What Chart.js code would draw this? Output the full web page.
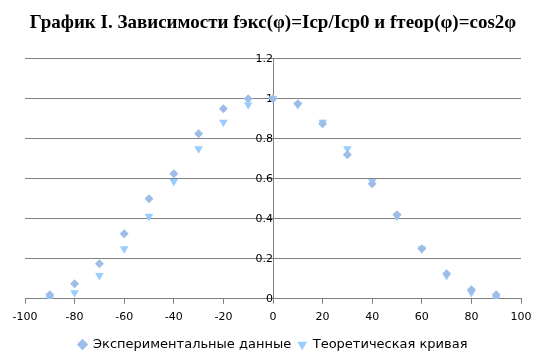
<!DOCTYPE html>
<html lang="ru">
  <head>
    <meta charset="UTF-8" />
    <title>График I</title>
    <style>
      * {
        margin: 0;
        padding: 0;
        box-sizing: border-box;
      }
      body {
        background: white;
      }
      .chartBox {
        width: 544px;
        height: 361px;
      }
    </style>
  </head>
  <body>
    <div class="chartBox">
      <canvas id="myChart"></canvas>
    </div>

    <script src="https://cdn.jsdelivr.net/npm/chart.js"></script>

    <script>
      // углы, градусы
      const angles = [-90, -80, -70, -60, -50, -40, -30, -20, -10, 0, 10, 20, 30, 40, 50, 60, 70, 80, 90];
      // экспериментальные значения Icp/Icp0
      const experimental = [0.02, 0.075, 0.175, 0.325, 0.5, 0.625, 0.825, 0.95, 1.0, 1.0,
        0.975, 0.875, 0.72, 0.575, 0.42, 0.25, 0.125, 0.045, 0.02];
      // теоретические значения cos^2
      const theoretical = [0.0, 0.03, 0.117, 0.25, 0.413, 0.587, 0.75, 0.883, 0.97, 1.0,
        0.97, 0.883, 0.75, 0.587, 0.413, 0.25, 0.117, 0.03, 0.0];

      const xTicks = { min: -100, max: 100, step: 20 };
      const yTicks = { min: 0, max: 1.2, step: 0.2 };

      const toPoints = (vals) => angles.map((a, i) => ({ x: a, y: vals[i] }));

      const gray = "#808080";

      const data = {
        datasets: [
          {
            label: "Экспериментальные данные",
            data: toPoints(experimental),
            pointStyle: "rectRot",
            pointRadius: 4.5,
            backgroundColor: "#9dbde8",
            borderColor: "#9dbde8",
            borderWidth: 0,
          },
          {
            label: "Теоретическая кривая",
            data: toPoints(theoretical),
            pointStyle: "triangle",
            pointRotation: 180,
            rotation: 180,
            pointRadius: 5,
            backgroundColor: "#99ccff",
            borderColor: "#99ccff",
            borderWidth: 0,
          },
        ],
      };

      const config = {
        type: "scatter",
        data: data,
        options: {
          responsive: true,
          maintainAspectRatio: false,
          animation: false,
          layout: {
            padding: { left: 25, right: 23, top: 0, bottom: 0 },
          },
          plugins: {
            title: {
              display: true,
              text: "График I. Зависимости fэкс(φ)=Iср/Iср0 и fтеор(φ)=cos2φ",
              font: { family: "Liberation Serif", size: 19, weight: "bold" },
              color: "#000",
              padding: { top: 12, bottom: 24 },
            },
            legend: {
              position: "bottom",
              labels: {
                usePointStyle: true,
                boxWidth: 8,
                boxHeight: 8,
                color: "#000",
                font: { family: "DejaVu Sans", size: 13 },
                padding: 7,
              },
            },
            tooltip: { enabled: false },
          },
          scales: {
            x: {
              type: "linear",
              position: "bottom",
              min: xTicks.min,
              max: xTicks.max,
              ticks: {
                stepSize: xTicks.step,
                color: "#000",
                font: { family: "DejaVu Sans", size: 11 },
                padding: 7,
              },
              grid: {
                drawOnChartArea: false,
                drawTicks: true,
                tickLength: 5,
                color: gray,
              },
              border: { color: gray },
            },
            y: {
              type: "linear",
              position: { x: 0 },
              min: yTicks.min,
              max: yTicks.max,
              ticks: {
                stepSize: yTicks.step,
                color: "#000",
                font: { family: "DejaVu Sans", size: 11 },
                padding: 10,
                callback: (v) => String(Math.round(v * 10) / 10),
              },
              grid: {
                drawTicks: false,
                color: gray,
              },
              border: { color: gray },
            },
          },
        },
      };

      const myChart = new Chart(document.getElementById("myChart"), config);
    </script>
  </body>
</html>
